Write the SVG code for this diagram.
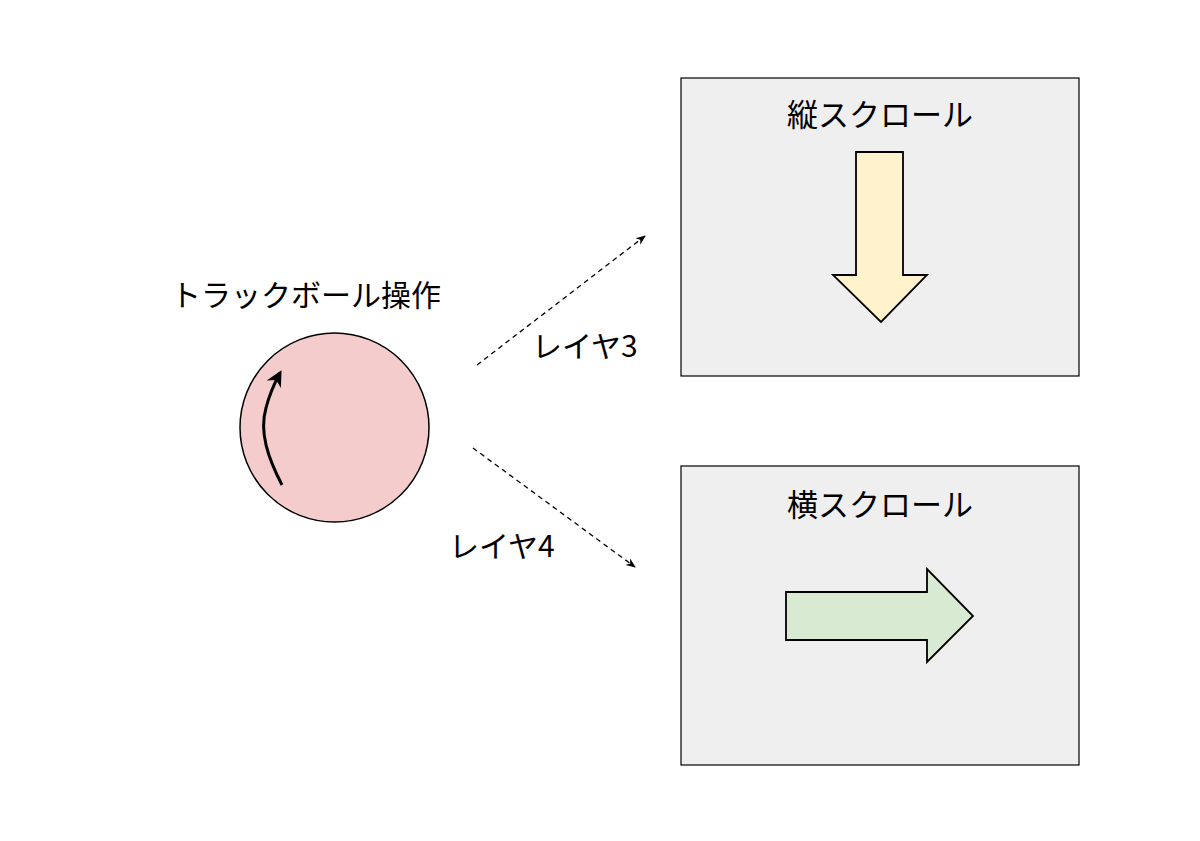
<svg xmlns="http://www.w3.org/2000/svg" width="1200" height="841" viewBox="0 0 1200 841">
  <defs>
    <style>
      .lbl { font-family: "Noto Sans CJK JP", "Liberation Sans", sans-serif; fill: #000; }
      .box { fill: #efefef; stroke: #000; stroke-width: 1.2; }
      .dash { fill: none; stroke: #000; stroke-width: 1.3; stroke-dasharray: 5 4; }
      .shape { stroke: #000; stroke-width: 1.8; stroke-linejoin: miter; }
    </style>
    <marker id="ah" viewBox="0 0 10 10" refX="9" refY="5" markerWidth="10" markerHeight="10" markerUnits="userSpaceOnUse" orient="auto">
      <path d="M0,1 L10,5 L0,9 L3,5 Z" fill="#000"/>
    </marker>
    <marker id="ahBig" viewBox="0 0 10 10" refX="8" refY="5" markerWidth="16" markerHeight="16" markerUnits="userSpaceOnUse" orient="auto">
      <path d="M0,0 L10,5 L0,10 L3,5 Z" fill="#000"/>
    </marker>
  </defs>
  <rect width="1200" height="841" fill="#fff"/>

  <g id="trackball">
    <circle cx="334.5" cy="427.5" r="94.5" fill="#f4cccc" stroke="#000" stroke-width="1.5"/>
    <path d="M282,485 C268,458 259,432 266,408 C269,396 274,384 280,373" fill="none" stroke="#000" stroke-width="3" marker-end="url(#ahBig)"/>
    <text class="lbl" x="306" y="306" font-size="30" text-anchor="middle">トラックボール操作</text>
  </g>

  <g id="vertical-scroll">
    <rect class="box" x="681" y="78" width="398" height="298"/>
    <text class="lbl" x="880" y="126" font-size="31" text-anchor="middle">縦スクロール</text>
    <polygon class="shape" fill="#fff2cc" points="856,152 903,152 903,275 927,275 881,322 833,275 856,275"/>
  </g>

  <g id="horizontal-scroll">
    <rect class="box" x="681" y="466" width="398" height="299"/>
    <text class="lbl" x="880" y="516" font-size="31" text-anchor="middle">横スクロール</text>
    <polygon class="shape" fill="#d9ead3" points="786,592 927,592 927,569 973,616 927,662 927,640 786,640"/>
  </g>

  <g id="connectors">
    <line class="dash" x1="477" y1="365" x2="645" y2="236" marker-end="url(#ah)"/>
    <line class="dash" x1="473" y1="448" x2="635" y2="567" marker-end="url(#ah)"/>
    <text class="lbl" x="532" y="357" font-size="30">レイヤ3</text>
    <text class="lbl" x="449" y="557" font-size="30">レイヤ4</text>
  </g>
</svg>
